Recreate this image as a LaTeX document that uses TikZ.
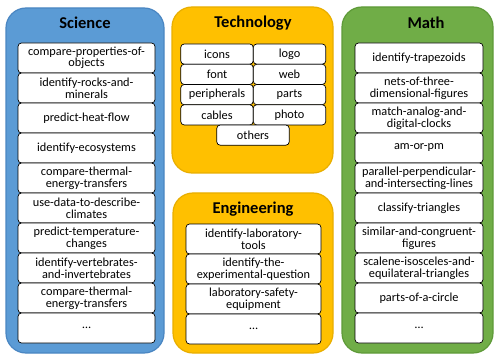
\documentclass[tikz,border=0pt]{standalone}
\usepackage{fontspec}
\setmainfont{Carlito}
\begin{document}
\definecolor{sciblue}{HTML}{5B9BD5}
\definecolor{sciedge}{HTML}{4A86C2}
\definecolor{techgold}{HTML}{FFC000}
\definecolor{techedge}{HTML}{E8AE00}
\definecolor{mathgreen}{HTML}{70AD47}
\definecolor{mathedge}{HTML}{5E9A38}
\begin{tikzpicture}[x=1pt,y=-1pt,
  panel/.style={rounded corners=20pt, line width=1.2pt},
  heading/.style={font=\fontsize{16.5}{16}\selectfont\bfseries, inner sep=0pt},
  item/.style={draw=black, fill=white, line width=0.7pt, rounded corners=3.5pt,
    align=center, inner sep=0pt, font=\fontsize{12.3}{11.6}\selectfont},
  sciitem/.style={item, minimum width=137pt, minimum height=30pt},
  engitem/.style={item, minimum width=135pt, minimum height=30pt},
  mathitem/.style={item, minimum width=128pt, minimum height=30pt},
  techitem/.style={item, minimum width=72.5pt, minimum height=20.25pt}]
\useasboundingbox (0,0) rectangle (497,355);

% coloured subject panels
\draw[panel, fill=sciblue, draw=sciedge] (6,8) rectangle (164,353);
\draw[panel, fill=techgold, draw=techedge] (172,7) rectangle (333,173);
\draw[panel, fill=techgold, draw=techedge] (173,193) rectangle (333,353);
\draw[panel, fill=mathgreen, draw=mathedge] (342,7) rectangle (493,353);

% headings
\node[heading] (hsci) at (85,23) {Science};
\node[heading] (htech) at (253,23) {Technology};
\node[heading] (heng) at (253,209) {Engineering};
\node[heading] (hmath) at (426,23) {Math};

% Science topics
\foreach \t [count=\i from 0] in {
  {compare-properties-of-\\objects},
  {identify-rocks-and-\\minerals},
  {predict-heat-flow},
  {identify-ecosystems},
  {compare-thermal-\\energy-transfers},
  {use-data-to-describe-\\climates},
  {predict-temperature-\\changes},
  {identify-vertebrates-\\and-invertebrates},
  {compare-thermal-\\energy-transfers}}
  \node[sciitem] (s\i) at (86.5,58+30*\i) {\t};
\node[sciitem] (s9) at (86.5,328) {\ldots};

% Technology topics
\foreach \a/\b [count=\i from 0] in {icons/logo, font/web, peripherals/parts, cables/photo} {
  \node[techitem] (tl\i) at (217,54.1+20.25*\i) {\a};
  \node[techitem] (tr\i) at (289.5,54.1+20.25*\i) {\b};
}
\node[techitem] (tother) at (253,135.1) {others};

% Engineering topics
\foreach \t [count=\i from 0] in {
  {identify-laboratory-\\tools},
  {identify-the-\\experimental-question},
  {laboratory-safety-\\equipment}}
  \node[engitem] (e\i) at (253.5,239+30*\i) {\t};
\node[engitem] (e3) at (253.5,329) {\ldots};

% Math topics
\foreach \t [count=\i from 0] in {
  {identify-trapezoids},
  {nets-of-three-\\dimensional-figures},
  {match-analog-and-\\digital-clocks},
  {am-or-pm},
  {parallel-perpendicular-\\and-intersecting-lines},
  {classify-triangles},
  {similar-and-congruent-\\figures},
  {scalene-isosceles-and-\\equilateral-triangles},
  {parts-of-a-circle}}
  \node[mathitem] (m\i) at (419,58+30*\i) {\t};
\node[mathitem] (m9) at (419,328) {\ldots};
\end{tikzpicture}
\end{document}
